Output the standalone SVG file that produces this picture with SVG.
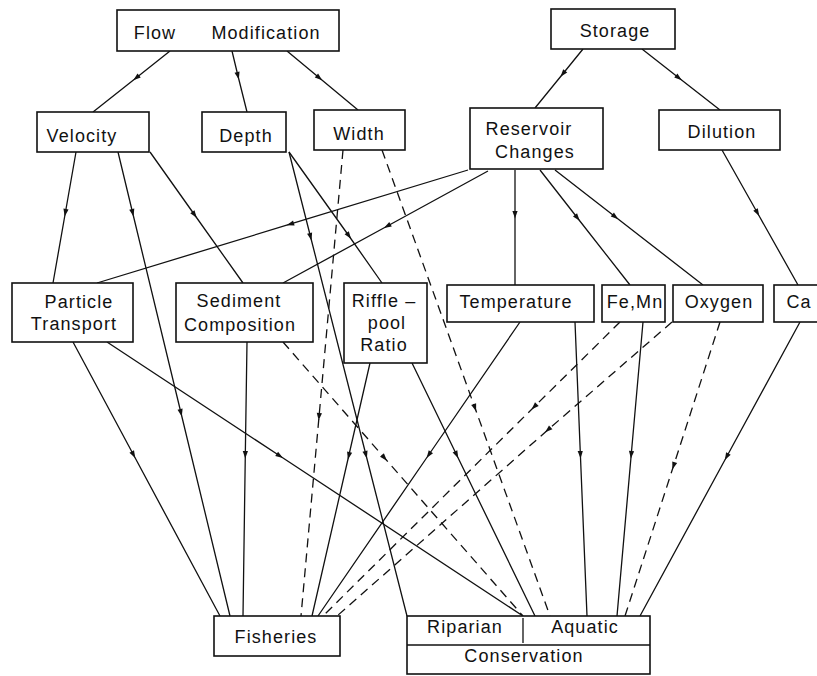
<svg xmlns="http://www.w3.org/2000/svg" width="817" height="676" viewBox="0 0 817 676">
<defs>
<style>
.box{fill:#fff;stroke:#111;stroke-width:1.6}
.t{font-family:"Liberation Sans",Arial,sans-serif;font-size:18px;letter-spacing:1.1px;fill:#111;text-anchor:middle}
.e{fill:none;stroke:#111;stroke-width:1.3;marker-mid:url(#a)}
.d{stroke-dasharray:9 6}
</style>
<marker id="a" markerUnits="userSpaceOnUse" markerWidth="10" markerHeight="10" viewBox="-5 -5 10 10" refX="0" refY="0" orient="auto">
<path d="M-4,-2.6 L3.5,0 L-4,2.6 Z" fill="#111"/>
</marker>
</defs>
<rect width="817" height="676" fill="#fff"/>
<g id="connectors">
<polyline class="e" points="170,51 136,78 93,112"/>
<polyline class="e" points="232,51 238,76 247,112"/>
<polyline class="e" points="287,51 319.5,78 358,110"/>
<polyline class="e" points="583,49 562.7,74 535,108"/>
<polyline class="e" points="642,49 679,78 720,110"/>
<polyline class="e" points="76,152 65.3,213 53,283"/>
<polyline class="e" points="118,152 132.7,213 181,413 230,616"/>
<polyline class="e" points="150,152 194.7,215 243,283"/>
<polyline class="e" points="289,152 349,236 382,283"/>
<polyline class="e" points="289,152 310.6,237 366,455 407,616"/>
<polyline class="e d" points="343,150 319,417 301,616"/>
<polyline class="e d" points="382,150 475,408 550,616"/>
<polyline class="e" points="468,170 290,224.2 97,283"/>
<polyline class="e" points="488,171 387,226.2 283,283"/>
<polyline class="e" points="515,170 515,215 515,285"/>
<polyline class="e" points="540,170 577.5,218 630,285"/>
<polyline class="e" points="555,170 615.5,217 703,285"/>
<polyline class="e" points="722,150 757.5,213 798,285"/>
<polyline class="e" points="73,342 133.6,455 220,616"/>
<polyline class="e" points="107,342 280,456 523,616"/>
<polyline class="e" points="247,342 245.3,455 243,616"/>
<polyline class="e d" points="283,342 384.6,458 523,616"/>
<polyline class="e" points="370,363 348.7,456 312,616"/>
<polyline class="e" points="412,363 456.7,455 535,616"/>
<polyline class="e" points="520,322 428.6,455 318,616"/>
<polyline class="e" points="575,322 580.4,455 587,616"/>
<polyline class="e" points="643,322 631.2,455 617,616"/>
<polyline class="e d" points="620,322 534,407 323,616"/>
<polyline class="e d" points="672,322 547.7,430 337,616"/>
<polyline class="e d" points="720,322 673.5,466 625,616"/>
<polyline class="e" points="800,322 726.5,457 640,616"/>
</g>
<g id="flow-modification">
<rect class="box" x="117" y="10" width="222" height="41"/>
<text class="t" x="155" y="39">Flow<tspan x="266">Modification</tspan></text>
</g>
<g id="storage">
<rect class="box" x="551" y="9" width="124" height="40"/>
<text class="t" x="615" y="37">Storage</text>
</g>
<g id="velocity">
<rect class="box" x="37" y="112" width="112" height="40"/>
<text class="t" x="82" y="142">Velocity</text>
</g>
<g id="depth">
<rect class="box" x="202" y="112" width="84" height="40"/>
<text class="t" x="246" y="142">Depth</text>
</g>
<g id="width">
<rect class="box" x="314" y="110" width="91" height="40"/>
<text class="t" x="359" y="140">Width</text>
</g>
<g id="reservoir-changes">
<rect class="box" x="470" y="108" width="133" height="61"/>
<text class="t" x="529" y="135">Reservoir</text>
<text class="t" x="535" y="158">Changes</text>
</g>
<g id="dilution">
<rect class="box" x="659" y="110" width="121" height="40"/>
<text class="t" x="722" y="138">Dilution</text>
</g>
<g id="particle-transport">
<rect class="box" x="12" y="283" width="121" height="59"/>
<text class="t" x="79" y="308">Particle</text>
<text class="t" x="74" y="330">Transport</text>
</g>
<g id="sediment-composition">
<rect class="box" x="176" y="283" width="137" height="59"/>
<text class="t" x="239" y="307">Sediment</text>
<text class="t" x="240" y="331">Composition</text>
</g>
<g id="riffle-pool-ratio">
<rect class="box" x="344" y="283" width="83" height="80"/>
<text class="t" x="384" y="307">Riffle –</text>
<text class="t" x="387" y="329">pool</text>
<text class="t" x="384" y="351">Ratio</text>
</g>
<g id="temperature">
<rect class="box" x="447" y="285" width="147" height="37"/>
<text class="t" x="516" y="308">Temperature</text>
</g>
<g id="fe-mn">
<rect class="box" x="602" y="285" width="63" height="37"/>
<text class="t" x="635" y="308">Fe,Mn</text>
</g>
<g id="oxygen">
<rect class="box" x="673" y="285" width="90" height="37"/>
<text class="t" x="719" y="308">Oxygen</text>
</g>
<g id="ca">
<rect class="box" x="774" y="285" width="60" height="37"/>
<text class="t" x="799" y="308">Ca</text>
</g>
<g id="fisheries">
<rect class="box" x="214" y="616" width="126" height="40"/>
<text class="t" x="276" y="643">Fisheries</text>
</g>
<g id="conservation">
<rect class="box" x="407" y="616" width="243" height="58"/>
<line x1="407" y1="645" x2="650" y2="645" stroke="#111" stroke-width="1.6"/>
<line x1="523" y1="618" x2="523" y2="643" stroke="#111" stroke-width="1.3"/>
<text class="t" x="465" y="633">Riparian</text>
<text class="t" x="585" y="633">Aquatic</text>
<text class="t" x="524" y="662">Conservation</text>
</g>
</svg>
